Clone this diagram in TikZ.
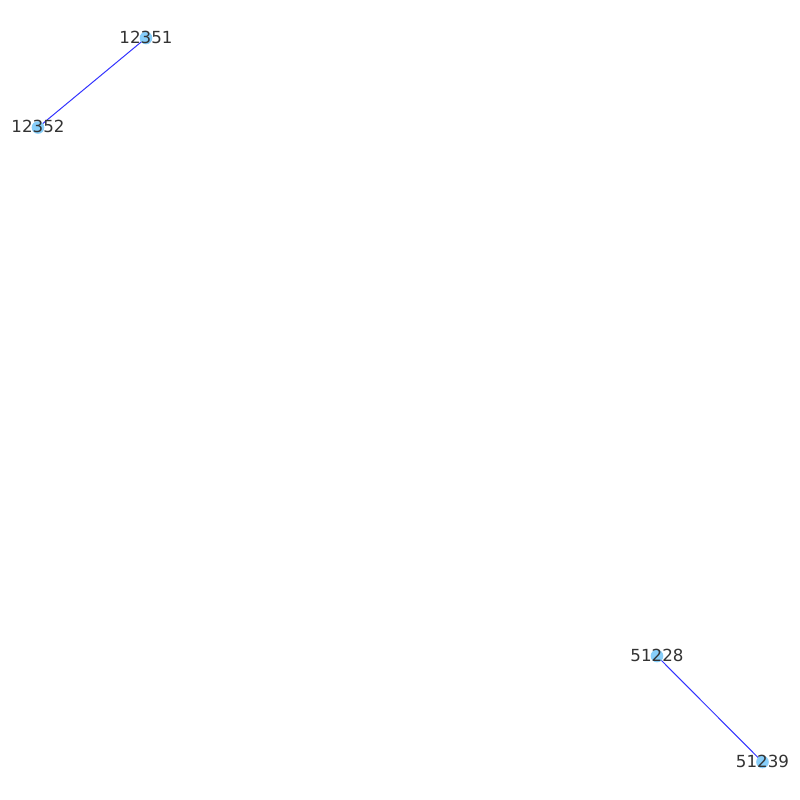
\documentclass[tikz,border=0pt]{standalone}
\usepackage{fontspec}
\setmainfont{DejaVu Sans}
\usetikzlibrary{backgrounds}
\definecolor{nodeblue}{RGB}{135,206,250}
\definecolor{labelgray}{RGB}{51,51,51}
\tikzset{
	vertex/.style={circle, fill=nodeblue, inner sep=0pt, minimum size=9.5pt},
	edge/.style={draw=blue, opacity=0.8, line width=0.75pt},
	vlabel/.style={text=labelgray, font=\fontsize{12.5}{15}\selectfont, inner sep=0pt}
}
\begin{document}
\begin{tikzpicture}[x=0.75pt, y=-0.75pt]

	\useasboundingbox (0,0) rectangle (800,800);

	%vertices
	\node[vertex] (v12351) at (146,38) {};
	\node[vertex] (v12352) at (38,127.5) {};
	\node[vertex] (v51228) at (657,656) {};
	\node[vertex] (v51239) at (762.5,762) {};

	%edges, under the vertices
	\begin{pgfonlayer}{background}
		\draw[edge] (v12351.center) -- (v12352.center);
		\draw[edge] (v51228.center) -- (v51239.center);
	\end{pgfonlayer}

	%labels
	\node[vlabel] (l12351) at ([yshift=0.75pt]v12351) {12351};
	\node[vlabel] (l12352) at ([yshift=0.75pt]v12352) {12352};
	\node[vlabel] (l51228) at ([yshift=0.75pt]v51228) {51228};
	\node[vlabel] (l51239) at ([yshift=0.75pt]v51239) {51239};
\end{tikzpicture}
\end{document}
